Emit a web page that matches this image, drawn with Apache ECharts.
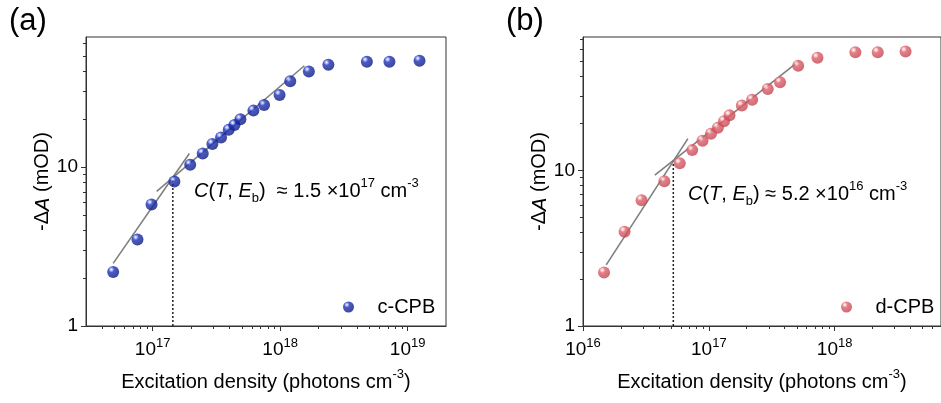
<!DOCTYPE html>
<html lang="en">
<head>
<meta charset="utf-8" />
<script src="https://cdn.jsdelivr.net/npm/echarts@6/dist/echarts.min.js"></script>
<style>
  html, body { margin: 0; padding: 0; background: #fff; }
  #main { width: 941px; height: 403px; }
</style>
</head>
<body>
<div id="main"></div>
<script>
// panel (a) c-CPB
var cX = [4.9e16, 7.6e16, 9.8e16, 1.48e17, 1.97e17, 2.47e17, 2.94e17, 3.44e17, 3.95e17, 4.38e17,
          4.88e17, 6.17e17, 7.48e17, 9.9e17, 1.2e18, 1.68e18, 2.39e18, 4.79e18, 7.2e18, 1.24e19];
var cY = [2.19, 3.5, 5.83, 8.13, 10.35, 12.2, 14.0, 15.4, 17.2, 18.4,
          20.0, 22.7, 24.6, 28.5, 34.7, 40.0, 44.1, 46.1, 46.1, 46.8];
var cFitLow = [[4.9e16, 2.48], [1.94e17, 12.2]];
var cFitHigh = [[1.075e17, 7.04], [1.55e18, 43.5]];
var cCross = [[1.44e17, 1], [1.44e17, 8.65]];

// panel (b) d-CPB
var dX = [1.47e16, 2.14e16, 2.92e16, 4.43e16, 5.87e16, 7.38e16, 8.91e16, 1.04e17, 1.18e17, 1.32e17,
          1.46e17, 1.83e17, 2.21e17, 2.94e17, 3.68e17, 5.13e17, 7.3e17, 1.46e18, 2.2e18, 3.66e18];
var dY = [2.21, 4.04, 6.44, 8.53, 11.1, 13.5, 15.5, 17.2, 18.8, 20.7,
          22.6, 26.1, 28.4, 33.3, 36.8, 47.1, 53.0, 57.4, 57.4, 58.0];
var dFitLow = [[1.53e16, 2.47], [6.82e16, 16.0]];
var dFitHigh = [[3.72e16, 9.33], [5.2e17, 50.3]];
var dCross = [[5.22e16, 1], [5.22e16, 11.8]];

// ticks
var aXTicks = [1e17, 1e18, 1e19];
var bXTicks = [1e16, 1e17, 1e18];
var yTicks = [1, 10];

var FONT = '"Liberation Sans", Arial, sans-serif';
var AXIS_COLOR = '#333';

function minors(fromExp, toExp, min, max) {
  var out = [];
  for (var e = fromExp; e <= toExp; e++) {
    for (var m = 2; m <= 9; m++) {
      var v = m * Math.pow(10, e);
      if (v > min * 1.001 && v < max * 0.999) out.push(v);
    }
  }
  return out;
}

function pair(xs, ys) {
  return xs.map(function (x, i) { return [x, ys[i]]; });
}

function ball(c0, c1, c2, c3) {
  return {
    type: 'radial', x: 0.35, y: 0.3, r: 0.72,
    colorStops: [{ offset: 0, color: c0 }, { offset: 0.14, color: c1 },
                 { offset: 0.34, color: c2 }, { offset: 1, color: c3 }]
  };
}

var supRich = {
  n: { fontSize: 19, fontFamily: FONT, lineHeight: 26, color: '#000' },
  s: { fontSize: 13, fontFamily: FONT, lineHeight: 13, verticalAlign: 'top', color: '#000' }
};

function xMajor(grid, min, max, ticks) {
  return {
    type: 'log', gridIndex: grid, min: min, max: max, position: 'bottom',
    axisLine: { show: true, onZero: false, lineStyle: { color: AXIS_COLOR, width: 1 } },
    axisTick: { show: true, inside: false, length: 5, customValues: ticks, lineStyle: { color: AXIS_COLOR } },
    axisLabel: {
      customValues: ticks, margin: 11,
      formatter: function (v) { return '{n|10}{s|' + Math.round(Math.log10(v)) + '}'; },
      rich: supRich
    },
    splitLine: { show: false },
    name: 'Excitation density (photons cm{s|-3})',
    nameLocation: 'middle', nameGap: 42,
    nameTextStyle: { fontSize: 20, fontFamily: FONT, color: '#000', lineHeight: 28,
      rich: { s: { fontSize: 13, fontFamily: FONT, lineHeight: 13, verticalAlign: 'top', color: '#000' } } }
  };
}
function xMinor(grid, min, max, ticks) {
  return {
    type: 'log', gridIndex: grid, min: min, max: max, position: 'bottom',
    axisLine: { show: false, onZero: false },
    axisTick: { show: true, inside: false, length: 3, customValues: ticks, lineStyle: { color: AXIS_COLOR } },
    axisLabel: { show: false }, splitLine: { show: false }
  };
}
function yMajor(grid, min, max, gap) {
  return {
    type: 'log', gridIndex: grid, min: min, max: max, position: 'left',
    axisLine: { show: true, onZero: false, lineStyle: { color: AXIS_COLOR, width: 1 } },
    axisTick: { show: true, inside: false, length: 5, customValues: yTicks, lineStyle: { color: AXIS_COLOR } },
    axisLabel: { customValues: yTicks, margin: 8, fontSize: 19, fontFamily: FONT, color: '#000' },
    splitLine: { show: false },
    name: '-\u0394{i|A} (mOD)',
    nameLocation: 'middle', nameGap: gap,
    nameTextStyle: { fontSize: 20, fontFamily: FONT, color: '#000',
      rich: { i: { fontSize: 20, fontFamily: FONT, fontStyle: 'italic', color: '#000' } } }
  };
}
function yMinor(grid, min, max) {
  return {
    type: 'log', gridIndex: grid, min: min, max: max, position: 'left',
    axisLine: { show: false, onZero: false },
    axisTick: { show: true, inside: false, length: 3, customValues: minors(0, 1, min, max), lineStyle: { color: AXIS_COLOR } },
    axisLabel: { show: false }, splitLine: { show: false }
  };
}

function fitLine(data, xi, yi) {
  return {
    type: 'line', xAxisIndex: xi, yAxisIndex: yi, data: data, symbol: 'none', silent: true,
    lineStyle: { color: '#7f7f7f', width: 1.6 }, z: 3
  };
}
function crossLine(data, xi, yi) {
  return {
    type: 'line', xAxisIndex: xi, yAxisIndex: yi, data: data, symbol: 'none', silent: true,
    lineStyle: { color: '#222', width: 1.5, type: [2, 2] }, z: 2
  };
}

var annoRich = {
  i: { fontSize: 20, fontFamily: FONT, fontStyle: 'italic', lineHeight: 28, fill: '#000' },
  n: { fontSize: 20, fontFamily: FONT, lineHeight: 28, fill: '#000' },
  b: { fontSize: 13, fontFamily: FONT, lineHeight: 13, verticalAlign: 'bottom', fill: '#000' },
  s: { fontSize: 13, fontFamily: FONT, lineHeight: 13, verticalAlign: 'top', fill: '#000' }
};

var legendText = { fontSize: 20, fontFamily: FONT, color: '#000' };

var chart = echarts.init(document.getElementById('main'));
var option = {
  animation: false,
  grid: [
    { left: 86, top: 37, width: 360, height: 289, show: true, borderColor: AXIS_COLOR, borderWidth: 1 },
    { left: 583, top: 37, width: 361, height: 289, show: true, borderColor: AXIS_COLOR, borderWidth: 1 }
  ],
  xAxis: [
    xMajor(0, 3e16, 2e19, aXTicks),
    xMinor(0, 3e16, 2e19, minors(16, 18, 3e16, 2e19)),
    xMajor(1, 1e16, 7e18, bXTicks),
    xMinor(1, 1e16, 7e18, minors(16, 18, 1e16, 7e18))
  ],
  yAxis: [
    yMajor(0, 1, 66, 31),
    yMinor(0, 1, 66),
    yMajor(1, 1, 72, 30),
    yMinor(1, 1, 72)
  ],
  legend: [
    { data: ['c-CPB'], left: 338, top: 292, itemWidth: 48, itemHeight: 11, textStyle: legendText },
    { data: ['d-CPB'], left: 836, top: 292, itemWidth: 48, itemHeight: 11, textStyle: legendText }
  ],
  series: [
    fitLine(cFitLow, 0, 0), fitLine(cFitHigh, 0, 0), crossLine(cCross, 0, 0),
    {
      name: 'c-CPB', type: 'scatter', xAxisIndex: 0, yAxisIndex: 0, data: pair(cX, cY),
      symbol: 'circle', symbolSize: 12, z: 4,
      itemStyle: { color: ball('#ffffff', '#a0acf4', '#1e32b8', '#0c187c') }
    },
    fitLine(dFitLow, 2, 2), fitLine(dFitHigh, 2, 2), crossLine(dCross, 2, 2),
    {
      name: 'd-CPB', type: 'scatter', xAxisIndex: 2, yAxisIndex: 2, data: pair(dX, dY),
      symbol: 'circle', symbolSize: 12, z: 4,
      itemStyle: { color: ball('#ffffff', '#f8c8cc', '#e0606a', '#c0444e') }
    }
  ],
  graphic: [
    { type: 'text', left: 9, top: 6, style: { text: '(a)', font: '31px ' + FONT, fill: '#000' } },
    { type: 'text', left: 506, top: 6, style: { text: '(b)', font: '31px ' + FONT, fill: '#000' } },
    { type: 'text', left: 194, top: 177, style: {
      text: '{i|C}{n|(}{i|T}{n|, }{i|E}{b|b}{n|)  \u2248 1.5 \u00d710}{s|17}{n| cm}{s|-3}', rich: annoRich } },
    { type: 'text', left: 688, top: 180, style: {
      text: '{i|C}{n|(}{i|T}{n|, }{i|E}{b|b}{n|) \u2248 5.2 \u00d710}{s|16}{n| cm}{s|-3}', rich: annoRich } }
  ]
};
chart.setOption(option);
</script>
</body>
</html>
